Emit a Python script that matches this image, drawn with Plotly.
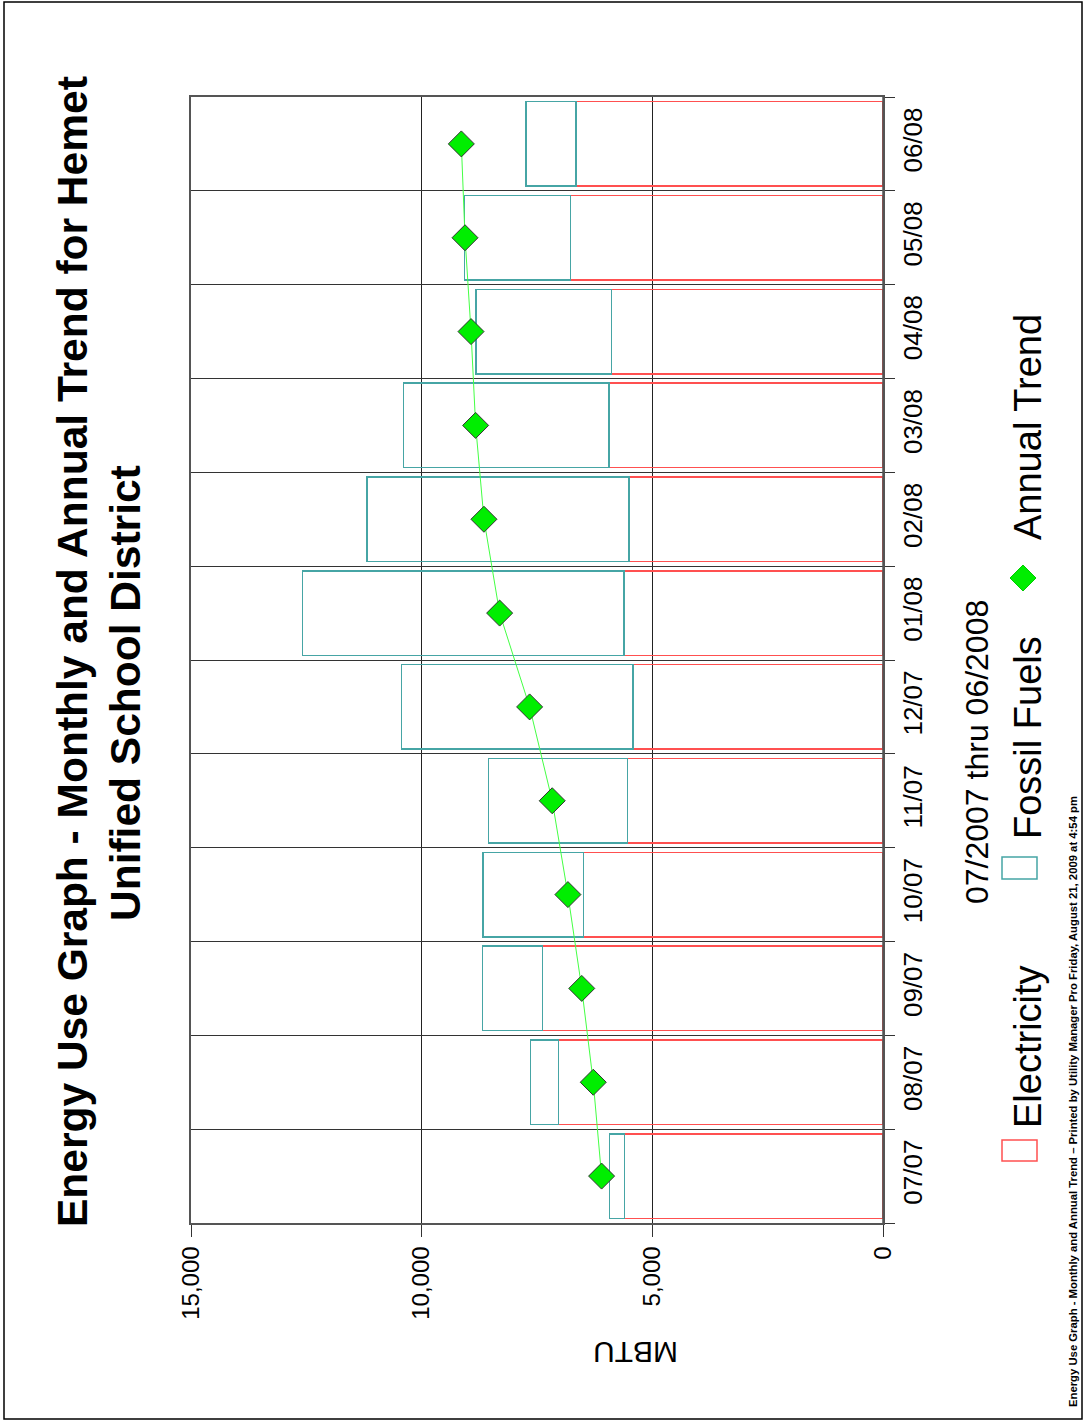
import plotly.graph_objects as go

# ---------------- data ----------------
categories = ["07/07", "08/07", "09/07", "10/07", "11/07", "12/07",
              "01/08", "02/08", "03/08", "04/08", "05/08", "06/08"]
electricity = [5600, 7030, 7380, 6490, 5540, 5420, 5610, 5510, 5940, 5880, 6770, 6650]
fossil_fuels = [330, 610, 1300, 2180, 3010, 5020, 6970, 5670, 4450, 2940, 2300, 1090]
annual_trend = [6100, 6280, 6530, 6830, 7170, 7660, 8310, 8650, 8830, 8930, 9060, 9140]
value_ticks = [0, 5000, 10000, 15000]
value_tick_labels = ["0", "5,000", "10,000", "15,000"]

# ---------------- layout geometry (pixels) ----------------
W, H = 1084, 1420
L, R, T, B = 191, 883, 97, 1223


def pxx(x):
    return (x - L) / (R - L)


def pxy(y):
    return (B - y) / (B - T)


RED = "rgb(255,80,80)"
TEAL = "rgb(70,165,165)"
FONT = "Arial, Liberation Sans, sans-serif"

fig = go.Figure()
fig.add_trace(go.Bar(
    y=categories, x=electricity, orientation="h", name="Electricity",
    marker=dict(color="rgba(0,0,0,0)", line=dict(color=RED, width=1.5)),
))
fig.add_trace(go.Bar(
    y=categories, x=fossil_fuels, orientation="h", name="Fossil Fuels",
    marker=dict(color="rgba(0,0,0,0)", line=dict(color=TEAL, width=1.5)),
))
fig.add_trace(go.Scatter(
    y=categories, x=annual_trend, mode="lines+markers", name="Annual Trend",
    line=dict(color="#44ff44", width=1),
    marker=dict(symbol="diamond", size=20, color="#00ee00",
                line=dict(color="#333333", width=1)),
))

fig.update_layout(
    width=W, height=H,
    margin=dict(l=L, r=W - R, t=T, b=H - B, pad=0),
    paper_bgcolor="white", plot_bgcolor="white",
    barmode="stack", bargap=0.1,
    showlegend=False,
    font=dict(family=FONT, color="black"),
    xaxis=dict(
        range=[15000, 0], tickvals=value_ticks, ticktext=value_tick_labels,
        tickangle=-90, tickfont=dict(size=24, family=FONT),
        ticks="outside", ticklen=12, tickcolor="#333", tickwidth=1,
        showgrid=True, gridcolor="#222", gridwidth=1,
        showline=True, linecolor="#555", linewidth=1.5, mirror=True,
        zeroline=False, fixedrange=True, layer="above traces",
    ),
    yaxis=dict(
        type="category", categoryorder="array", categoryarray=categories,
        range=[-0.5, len(categories) - 0.5],
        side="right", tickangle=-90, tickfont=dict(size=26, family=FONT),
        tickson="boundaries", ticks="outside", ticklen=10,
        tickcolor="#333", tickwidth=1, ticklabelstandoff=6,
        showgrid=True, gridcolor="#333", gridwidth=1,
        showline=True, linecolor="#555", linewidth=1.5, mirror=True,
        zeroline=False, fixedrange=True, layer="above traces",
    ),
)

annotations = [
    dict(text="Energy Use Graph - Monthly and Annual Trend for Hemet",
         x=pxx(72), y=pxy(652), size=42.5, bold=True),
    dict(text="Unified School District", x=pxx(125), y=pxy(693), size=42.5, bold=True),
    dict(text="07/2007 thru 06/2008", x=pxx(977), y=pxy(752), size=32),
    dict(text="Electricity", x=pxx(1028), y=pxy(1047), size=38),
    dict(text="Fossil Fuels", x=pxx(1028), y=pxy(738), size=38),
    dict(text="Annual Trend", x=pxx(1028), y=pxy(427), size=38),
    dict(text="Energy Use Graph - Monthly and Annual Trend \u2013 Printed by Utility Manager Pro "
              "Friday, August 21, 2009 at 4:54 pm",
         x=pxx(1073), y=pxy(1102), size=11.3, bold=True,
         family="Liberation Sans Narrow, Arial Narrow, Arial"),
]
for a in annotations:
    fig.add_annotation(
        text=a["text"], x=a["x"], y=a["y"], xref="paper", yref="paper",
        xanchor="center", yanchor="middle", showarrow=False, textangle=-90,
        font=dict(size=a["size"], family=a.get("family", FONT), color="black",
                  weight="bold" if a.get("bold") else "normal"),
    )
fig.add_annotation(
    text="MBTU", x=pxx(636), y=pxy(1353), xref="paper", yref="paper",
    xanchor="center", yanchor="middle", showarrow=False, textangle=180,
    font=dict(size=30, family=FONT, color="black"),
)

# legend swatches
shapes = [
    dict(type="rect", x0=pxx(1002), x1=pxx(1037), y0=pxy(1140), y1=pxy(1161),
         line=dict(color=RED, width=1.5)),
    dict(type="rect", x0=pxx(1002), x1=pxx(1037), y0=pxy(857), y1=pxy(879),
         line=dict(color=TEAL, width=1.5)),
]
cx, cy, hs = 1023, 578, 13
shapes.append(dict(
    type="path",
    path=f"M {pxx(cx - hs)},{pxy(cy)} L {pxx(cx)},{pxy(cy - hs)} "
         f"L {pxx(cx + hs)},{pxy(cy)} L {pxx(cx)},{pxy(cy + hs)} Z",
    fillcolor="#00ee00", line=dict(color="#00cc00", width=1)))
# frame edge at the zero line (drawn over the bar outlines)
shapes.append(dict(type="line", x0=1, x1=1, y0=0, y1=1,
                   line=dict(color="#555", width=1.5)))
# page border
shapes.append(dict(type="rect", x0=pxx(4), x1=pxx(1082), y0=pxy(1419), y1=pxy(2),
                   line=dict(color="black", width=1.5)))
for s in shapes:
    s.update(xref="paper", yref="paper", layer="above")
    fig.add_shape(**s)

fig.write_html(
    "out.html",
    config={"displayModeBar": False},
    post_script="document.body.style.margin='0px';document.body.style.padding='0px';"
                "document.body.style.overflow='hidden';",
)
